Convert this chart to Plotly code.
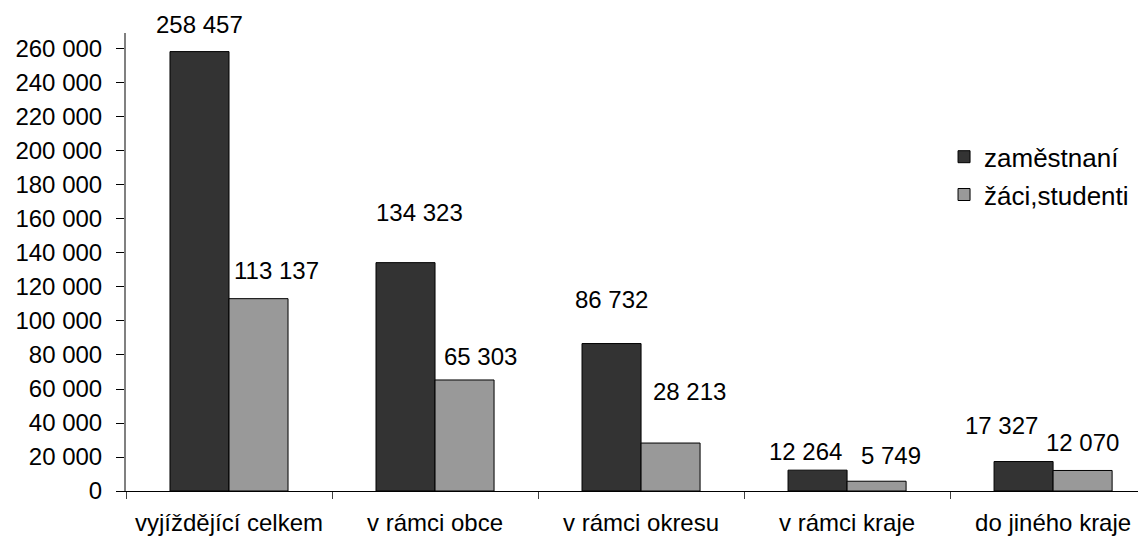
import plotly.graph_objects as go

categories = ["vyjíždějící celkem", "v rámci obce", "v rámci okresu", "v rámci kraje", "do jiného kraje"]
zamestnani = [258457, 134323, 86732, 12264, 17327]
zaci_studenti = [113137, 65303, 28213, 5749, 12070]
series_names = ["zaměstnaní", "žáci,studenti"]
y_tickvals = list(range(0, 260001, 20000))
y_ticktext = [f"{v:,}".replace(",", " ") for v in y_tickvals]

# label styling offsets (px) relative to bar center / bar top
dark_offsets = [(0, 27), (14, 50), (0, 44), (-12, 19), (-22, 36)]
light_offsets = [(18, 28), (16, 23), (19, 52), (14, 26), (0, 28)]
bar_half = 29.5

FONT = "Liberation Sans, Arial, sans-serif"

fig = go.Figure()
fig.add_trace(go.Bar(x=categories, y=zamestnani, name=series_names[0],
                     marker=dict(color="#333333", line=dict(color="#000000", width=1)),
                     legendgroup="a"))
fig.add_trace(go.Bar(x=categories, y=zaci_studenti, name=series_names[1],
                     marker=dict(color="#999999", line=dict(color="#000000", width=1)),
                     legendgroup="b"))

def fmt(v):
    return f"{v:,}".replace(",", " ")

annotations = []
for i, c in enumerate(categories):
    for vals, offs, sign in ((zamestnani, dark_offsets, -1), (zaci_studenti, light_offsets, 1)):
        dx, dy = offs[i]
        annotations.append(dict(x=c, y=vals[i], text=fmt(vals[i]), showarrow=False,
                                xref="x", yref="y", xanchor="center", yanchor="middle",
                                xshift=sign * bar_half + dx, yshift=dy,
                                font=dict(family=FONT, size=24, color="#000000")))

# page body has an 8px default margin, so the figure is 8px smaller than the window
fig.update_layout(
    width=1138, height=531,
    margin=dict(l=118, r=0, t=25, b=48, autoexpand=False),
    paper_bgcolor="white", plot_bgcolor="white",
    barmode="group", bargap=0.427, bargroupgap=0,
    font=dict(family=FONT, size=24, color="#000000"),
    showlegend=True,
    legend=dict(x=0.802, y=0.781, xanchor="left", yanchor="top",
                font=dict(family=FONT, size=26, color="#000000"),
                bgcolor="rgba(0,0,0,0)", tracegroupgap=1, itemwidth=30),
    annotations=annotations,
    xaxis=dict(range=[-0.5, 4.451], showline=True, linecolor="#000000", linewidth=1,
               ticks="outside", tickson="boundaries", ticklen=7, tickcolor="#404040",
               showgrid=False, zeroline=False, ticklabelstandoff=10, automargin=False,
               tickfont=dict(family=FONT, size=24, color="#000000")),
    yaxis=dict(range=[0, 269400], showline=True, linecolor="#808080", linewidth=2,
               tickvals=y_tickvals, ticktext=y_ticktext,
               ticks="outside", ticklen=8, tickcolor="#000000", showgrid=False,
               zeroline=False, ticklabelstandoff=9, automargin=False,
               tickfont=dict(family=FONT, size=24, color="#000000")),
)

fig.write_html("out.html")
